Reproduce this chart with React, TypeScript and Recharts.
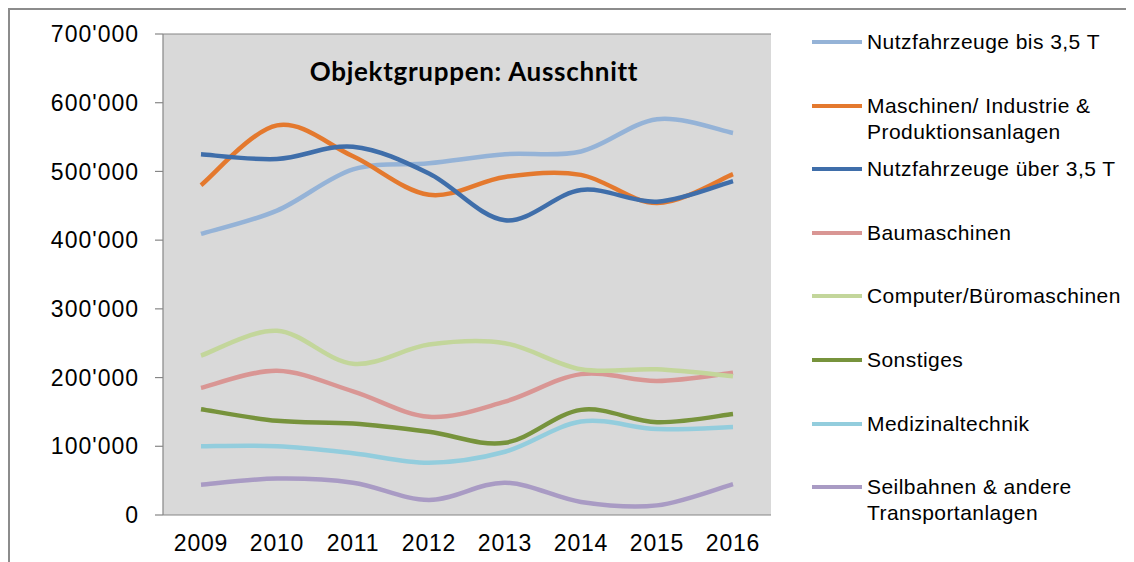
import React from "react";
import { LineChart, CartesianGrid, XAxis, YAxis, Line } from "recharts";

const years = ["2009", "2010", "2011", "2012", "2013", "2014", "2015", "2016"];

const nutzBis35 = [409000, 443000, 503000, 512000, 525000, 529000, 576000, 556000];
const maschinen = [480000, 567000, 522000, 466000, 492000, 495000, 454000, 496000];
const nutzUeber35 = [525000, 518000, 536000, 497000, 429000, 473000, 456000, 486000];
const baumaschinen = [185000, 210000, 180000, 143000, 165000, 205000, 195000, 207000];
const computer = [232000, 268000, 220000, 248000, 250000, 212000, 212000, 202000];
const sonstiges = [154000, 137000, 133000, 121000, 105000, 153000, 135000, 147000];
const medizinal = [100000, 100000, 90000, 76000, 92000, 136000, 125000, 128000];
const seilbahnen = [44000, 53000, 47000, 22000, 47000, 19000, 14000, 45000];

const yTicks = [0, 100000, 200000, 300000, 400000, 500000, 600000, 700000];
const bandTicks = [0, 1, 2, 3, 4, 5, 6, 7, 8];

const series = [
  { key: "nutzBis35", name: "Nutzfahrzeuge bis 3,5 T", values: nutzBis35, color: "#95B3D7" },
  { key: "maschinen", name: "Maschinen/ Industrie &\nProduktionsanlagen", values: maschinen, color: "#E4792E" },
  { key: "nutzUeber35", name: "Nutzfahrzeuge über 3,5 T", values: nutzUeber35, color: "#3F6EAA" },
  { key: "baumaschinen", name: "Baumaschinen", values: baumaschinen, color: "#D99694" },
  { key: "computer", name: "Computer/Büromaschinen", values: computer, color: "#C3D69B" },
  { key: "sonstiges", name: "Sonstiges", values: sonstiges, color: "#77933C" },
  { key: "medizinal", name: "Medizinaltechnik", values: medizinal, color: "#93CDDD" },
  { key: "seilbahnen", name: "Seilbahnen & andere\nTransportanlagen", values: seilbahnen, color: "#A99BC4" },
];

const data = years.map((year, i) => {
  const row: any = { year };
  series.forEach((s) => {
    row[s.key] = s.values[i];
  });
  return row;
});

const fmt = (v: number) => {
  if (v === 0) return "0";
  const s = String(v);
  return s.slice(0, s.length - 3) + "'" + s.slice(s.length - 3);
};

// excel-like smoothing (catmull-rom through the points)
const smooth = (context: any) => {
  let xs: number[] = [];
  let ys: number[] = [];
  return {
    areaStart() {},
    areaEnd() {},
    lineStart() {
      xs = [];
      ys = [];
    },
    point(x: number, y: number) {
      xs.push(+x);
      ys.push(+y);
    },
    lineEnd() {
      const n = xs.length;
      if (!n) return;
      context.moveTo(xs[0], ys[0]);
      for (let i = 0; i < n - 1; i++) {
        const a = i > 0 ? i - 1 : i;
        const d = i + 2 < n ? i + 2 : i + 1;
        context.bezierCurveTo(
          xs[i] + (xs[i + 1] - xs[a]) / 6,
          ys[i] + (ys[i + 1] - ys[a]) / 6,
          xs[i + 1] - (xs[d] - xs[i]) / 6,
          ys[i + 1] - (ys[d] - ys[i]) / 6,
          xs[i + 1],
          ys[i + 1]
        );
      }
    },
  };
};

const font = "'Liberation Sans', Arial, sans-serif";

const App = () => {
  return (
    <div style={{ position: "relative", width: 1126, height: 554, overflow: "hidden", background: "#fff" }}>
      <div
        style={{
          position: "absolute",
          left: 0,
          top: 0,
          width: 1300,
          height: 700,
          borderLeft: "2px solid #8c8c8c",
          borderTop: "2px solid #8c8c8c",
        }}
      />
      <div style={{ position: "absolute", left: 0, top: 0 }}>
        <LineChart width={780} height={554} data={data} margin={{ top: 26, right: 17, left: 0, bottom: 7 }}>
          <CartesianGrid vertical={false} stroke="#868686" strokeWidth={1.2} fill="#D9D9D9" fillOpacity={1} />
          <XAxis
            xAxisId="band"
            type="number"
            dataKey={() => 0}
            domain={[0, 8]}
            ticks={bandTicks}
            tick={false}
            tickSize={7}
            height={0}
            stroke="#868686"
            axisLine={{ stroke: "#868686", strokeWidth: 1.2 }}
            tickLine={{ stroke: "#868686", strokeWidth: 1.2 }}
          />
          <XAxis
            xAxisId="cat"
            dataKey="year"
            scale="band"
            axisLine={false}
            tickLine={false}
            tickSize={6}
            tickMargin={14}
            height={40}
            interval={0}
            tick={{ fill: "#000", fontSize: 23, fontFamily: font, letterSpacing: 0.8 }}
          />
          <YAxis
            yAxisId="l"
            domain={[0, 700000]}
            ticks={yTicks}
            tickFormatter={fmt}
            width={155}
            tickSize={8}
            tickMargin={16}
            axisLine={{ stroke: "#868686", strokeWidth: 1.2 }}
            tickLine={{ stroke: "#868686", strokeWidth: 1.2 }}
            tick={{ fill: "#000", fontSize: 23, fontFamily: font, letterSpacing: 1 }}
          />
          <YAxis
            yAxisId="r"
            orientation="right"
            domain={[0, 700000]}
            ticks={yTicks}
            width={0}
            tick={false}
            tickLine={false}
            axisLine={{ stroke: "#404040", strokeWidth: 1.5 }}
          />
          {series.map((s) => (
            <Line
              key={s.key}
              xAxisId="cat"
              yAxisId="l"
              type={smooth as any}
              dataKey={s.key}
              stroke={s.color}
              strokeWidth={4.5}
              dot={false}
              activeDot={false}
              isAnimationActive={false}
            />
          ))}
        </LineChart>
      </div>
      <div
        style={{
          position: "absolute",
          left: 160,
          width: 612,
          top: 47,
          textAlign: "center",
          fontFamily: "Lato, 'Open Sans', sans-serif",
          fontWeight: 700,
          fontSize: 26,
          letterSpacing: 0.7,
          color: "#000",
        }}
      >
        Objektgruppen: Ausschnitt
      </div>
      {series.map((s, i) => {
        const cy = 34 + i * 63.6;
        return (
          <div
            key={s.key}
            style={{ position: "absolute", left: 804, top: cy - 13, fontFamily: font, fontSize: 21, letterSpacing: 0.45, lineHeight: "26px", color: "#000" }}
          >
            <div style={{ position: "absolute", left: 0, top: 11, width: 50, height: 4, background: s.color }} />
            <div style={{ position: "absolute", left: 55, top: 0, whiteSpace: "pre" }}>{s.name}</div>
          </div>
        );
      })}
    </div>
  );
};

export default App;
